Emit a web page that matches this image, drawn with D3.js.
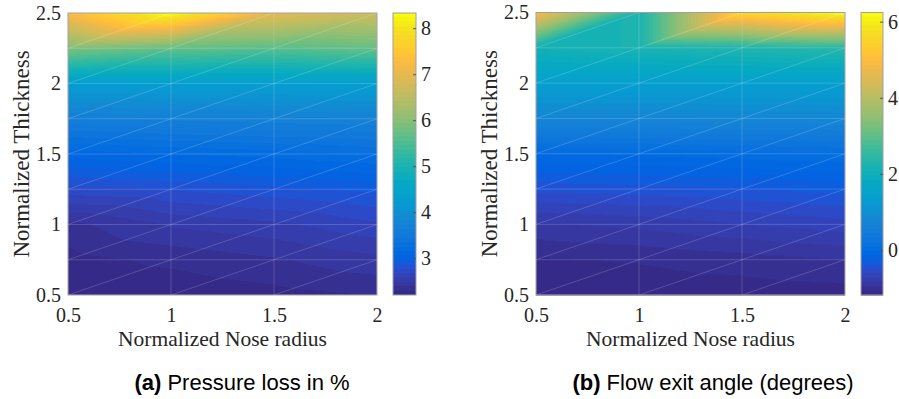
<!DOCTYPE html>
<html>
<head>
<meta charset="utf-8">
<script src="https://cdn.jsdelivr.net/npm/d3@7"></script>
<style>
  body { margin: 0; background: #fff; }
  svg { display: block; }
</style>
</head>
<body>
<svg id="fig" width="899" height="399"></svg>
<script>
// grid nodes
const noseRadius = [0.5, 1, 1.5, 2];
const thickness = [0.5, 0.75, 1, 1.25, 1.5, 1.75, 2, 2.25, 2.5];

// one row per thickness value (bottom to top), one column per nose radius
const pressureLoss = [
  [2.20, 2.22, 2.26, 2.30],
  [2.26, 2.32, 2.38, 2.46],
  [2.36, 2.50, 2.56, 2.66],
  [2.74, 2.78, 2.84, 2.90],
  [3.10, 3.16, 3.20, 3.26],
  [3.62, 3.66, 3.70, 3.72],
  [4.30, 4.30, 4.30, 4.32],
  [5.90, 5.70, 5.60, 5.70],
  [7.30, 8.33, 7.00, 6.70]
];
const exitAngle = [
  [-1.18, -1.16, -1.14, -1.12],
  [-1.08, -1.05, -1.00, -0.95],
  [-0.85, -0.80, -0.72, -0.65],
  [-0.45, -0.42, -0.38, -0.32],
  [-0.02, 0.00, 0.04, 0.08],
  [0.75, 0.75, 0.78, 0.80],
  [1.40, 1.40, 1.40, 1.40],
  [2.10, 2.20, 2.30, 2.40],
  [5.00, 2.20, 5.60, 6.24]
];

const xTicks = [0.5, 1, 1.5, 2];
const yTicks = [0.5, 1, 1.5, 2, 2.5];
const lossTicks = [3, 4, 5, 6, 7, 8];
const angleTicks = [0, 2, 4, 6];

// parula(64)
const parula = [
  [0.2081,0.1663,0.5292],[0.2116,0.1898,0.5777],[0.2123,0.2138,0.6270],[0.2081,0.2386,0.6771],
  [0.1959,0.2645,0.7279],[0.1707,0.2919,0.7792],[0.1253,0.3242,0.8303],[0.0591,0.3598,0.8683],
  [0.0117,0.3875,0.8820],[0.0060,0.4086,0.8828],[0.0165,0.4266,0.8786],[0.0329,0.4430,0.8720],
  [0.0498,0.4586,0.8641],[0.0629,0.4737,0.8554],[0.0723,0.4887,0.8467],[0.0779,0.5040,0.8384],
  [0.0793,0.5200,0.8312],[0.0749,0.5375,0.8263],[0.0641,0.5570,0.8240],[0.0488,0.5772,0.8228],
  [0.0343,0.5966,0.8199],[0.0265,0.6137,0.8135],[0.0239,0.6287,0.8038],[0.0231,0.6418,0.7913],
  [0.0228,0.6535,0.7768],[0.0267,0.6642,0.7607],[0.0384,0.6743,0.7436],[0.0590,0.6838,0.7254],
  [0.0843,0.6928,0.7062],[0.1133,0.7015,0.6859],[0.1453,0.7098,0.6646],[0.1801,0.7177,0.6424],
  [0.2178,0.7250,0.6193],[0.2586,0.7317,0.5954],[0.3022,0.7376,0.5712],[0.3482,0.7424,0.5473],
  [0.3953,0.7459,0.5244],[0.4420,0.7481,0.5033],[0.4871,0.7491,0.4840],[0.5300,0.7491,0.4661],
  [0.5709,0.7485,0.4494],[0.6099,0.7473,0.4337],[0.6473,0.7456,0.4188],[0.6834,0.7435,0.4044],
  [0.7184,0.7411,0.3905],[0.7525,0.7384,0.3768],[0.7858,0.7356,0.3633],[0.8185,0.7327,0.3498],
  [0.8507,0.7299,0.3360],[0.8824,0.7274,0.3217],[0.9139,0.7258,0.3063],[0.9450,0.7261,0.2886],
  [0.9739,0.7314,0.2666],[0.9938,0.7455,0.2403],[0.9990,0.7653,0.2164],[0.9955,0.7861,0.1967],
  [0.9880,0.8066,0.1794],[0.9789,0.8271,0.1633],[0.9697,0.8481,0.1475],[0.9626,0.8705,0.1309],
  [0.9589,0.8949,0.1132],[0.9598,0.9218,0.0948],[0.9661,0.9514,0.0755],[0.9763,0.9831,0.0538]
];

const svg = d3.select("#fig");
const serif = "'Liberation Serif', 'Times New Roman', serif";
const textCol = "#262626";
const boxCol = "#a0a0a0";

const panels = [
  { data: pressureLoss, cTicks: lossTicks, x0: 68, x1: 377, y0: 13, y1: 295, cb0: 393, cb1: 416,
    ylabX: 28.5, capX: 242, tag: "(a)", caption: " Pressure loss in %" },
  { data: exitAngle, cTicks: angleTicks, x0: 536, x1: 845, y0: 12.5, y1: 295, cb0: 861, cb1: 883,
    ylabX: 496.7, capX: 713, tag: "(b)", caption: " Flow exit angle (degrees)" }
];

// value at (x, y) on the triangulated grid (diagonal from lower-left to upper-right)
function sample(data, x, y) {
  let i = d3.bisectRight(noseRadius, x) - 1;
  let j = d3.bisectRight(thickness, y) - 1;
  i = Math.max(0, Math.min(noseRadius.length - 2, i));
  j = Math.max(0, Math.min(thickness.length - 2, j));
  const u = (x - noseRadius[i]) / (noseRadius[i + 1] - noseRadius[i]);
  const v = (y - thickness[j]) / (thickness[j + 1] - thickness[j]);
  const f00 = data[j][i], f10 = data[j][i + 1], f01 = data[j + 1][i], f11 = data[j + 1][i + 1];
  if (u >= v) return (1 - u) * f00 + (u - v) * f10 + v * f11;
  return (1 - v) * f00 + (v - u) * f01 + u * f11;
}

function rasterize(w, h, valueAt, cScale) {
  const canvas = document.createElement("canvas");
  canvas.width = w; canvas.height = h;
  const ctx = canvas.getContext("2d");
  const img = ctx.createImageData(w, h);
  for (let py = 0; py < h; py++) {
    for (let px = 0; px < w; px++) {
      const c = parula[cScale(valueAt(px + 0.5, py + 0.5))];
      const k = (py * w + px) * 4;
      img.data[k] = Math.round(c[0] * 255);
      img.data[k + 1] = Math.round(c[1] * 255);
      img.data[k + 2] = Math.round(c[2] * 255);
      img.data[k + 3] = 255;
    }
  }
  ctx.putImageData(img, 0, 0);
  return canvas.toDataURL();
}

panels.forEach(p => {
  const x = d3.scaleLinear().domain([0.5, 2]).range([p.x0, p.x1]);
  const y = d3.scaleLinear().domain([0.5, 2.5]).range([p.y1, p.y0]);
  const ext = d3.extent(p.data.flat());
  const cIndex = v => Math.max(0, Math.min(63, Math.floor((v - ext[0]) / (ext[1] - ext[0]) * 64)));
  const g = svg.append("g");

  const w = Math.round(p.x1 - p.x0), h = Math.round(p.y1 - p.y0);
  g.append("image")
    .attr("x", p.x0).attr("y", p.y0).attr("width", w).attr("height", h)
    .attr("preserveAspectRatio", "none")
    .attr("href", rasterize(w, h, (px, py) => sample(p.data, x.invert(p.x0 + px), y.invert(p.y0 + py)), cIndex));

  // mesh edges
  const mesh = g.append("g").attr("stroke", "#fff").attr("stroke-opacity", 0.22).attr("stroke-width", 0.8);
  noseRadius.forEach(xv => mesh.append("line").attr("x1", x(xv)).attr("x2", x(xv)).attr("y1", y(0.5)).attr("y2", y(2.5)));
  thickness.forEach(yv => mesh.append("line").attr("x1", x(0.5)).attr("x2", x(2)).attr("y1", y(yv)).attr("y2", y(yv)));
  for (let i = 0; i < noseRadius.length - 1; i++) {
    for (let j = 0; j < thickness.length - 1; j++) {
      mesh.append("line")
        .attr("x1", x(noseRadius[i])).attr("y1", y(thickness[j]))
        .attr("x2", x(noseRadius[i + 1])).attr("y2", y(thickness[j + 1]));
    }
  }

  g.append("rect").attr("x", p.x0).attr("y", p.y0).attr("width", p.x1 - p.x0).attr("height", p.y1 - p.y0)
    .attr("fill", "none").attr("stroke", boxCol).attr("stroke-width", 1);

  // axes
  const xAxis = g.append("g").attr("transform", `translate(0,${p.y1})`)
    .call(d3.axisBottom(x).tickValues(xTicks).tickSize(0).tickPadding(13).tickFormat(d3.format("")));
  const yAxis = g.append("g").attr("transform", `translate(${p.x0},0)`)
    .call(d3.axisLeft(y).tickValues(yTicks).tickSize(0).tickPadding(7).tickFormat(d3.format("")));
  [xAxis, yAxis].forEach(a => {
    a.select(".domain").remove();
    a.selectAll("text").attr("font-family", serif).attr("font-size", 20).attr("fill", textCol);
  });

  g.append("text")
    .attr("x", (p.x0 + p.x1) / 2).attr("y", 346)
    .attr("text-anchor", "middle").attr("font-family", serif).attr("font-size", 21.5).attr("fill", textCol)
    .text("Normalized Nose radius");
  g.append("text")
    .attr("transform", `translate(${p.ylabX},${(p.y0 + p.y1) / 2}) rotate(-90)`)
    .attr("text-anchor", "middle").attr("font-family", serif).attr("font-size", 23).attr("fill", textCol)
    .text("Normalized Thickness");

  // colorbar
  const c = d3.scaleLinear().domain(ext).range([p.y1, p.y0]);
  const cw = p.cb1 - p.cb0;
  g.append("image")
    .attr("x", p.cb0).attr("y", p.y0).attr("width", cw).attr("height", h)
    .attr("preserveAspectRatio", "none")
    .attr("href", rasterize(cw, h, (px, py) => c.invert(p.y0 + py), cIndex));
  g.append("rect").attr("x", p.cb0).attr("y", p.y0).attr("width", cw).attr("height", p.y1 - p.y0)
    .attr("fill", "none").attr("stroke", boxCol).attr("stroke-width", 1);
  const cAxis = g.append("g").attr("transform", `translate(${p.cb1},0)`)
    .call(d3.axisRight(c).tickValues(p.cTicks).tickSize(-3).tickPadding(5).tickFormat(d3.format("")));
  cAxis.select(".domain").remove();
  cAxis.selectAll("line").attr("stroke", "#555");
  cAxis.selectAll("text").attr("font-family", serif).attr("font-size", 20).attr("fill", textCol);

  // caption
  const cap = g.append("text")
    .attr("x", p.capX).attr("y", 390).attr("text-anchor", "middle")
    .attr("font-family", "'Liberation Sans', Arial, sans-serif").attr("font-size", 22).attr("fill", "#000");
  cap.append("tspan").attr("font-weight", "bold").text(p.tag);
  cap.append("tspan").text(p.caption);
});
</script>
</body>
</html>
